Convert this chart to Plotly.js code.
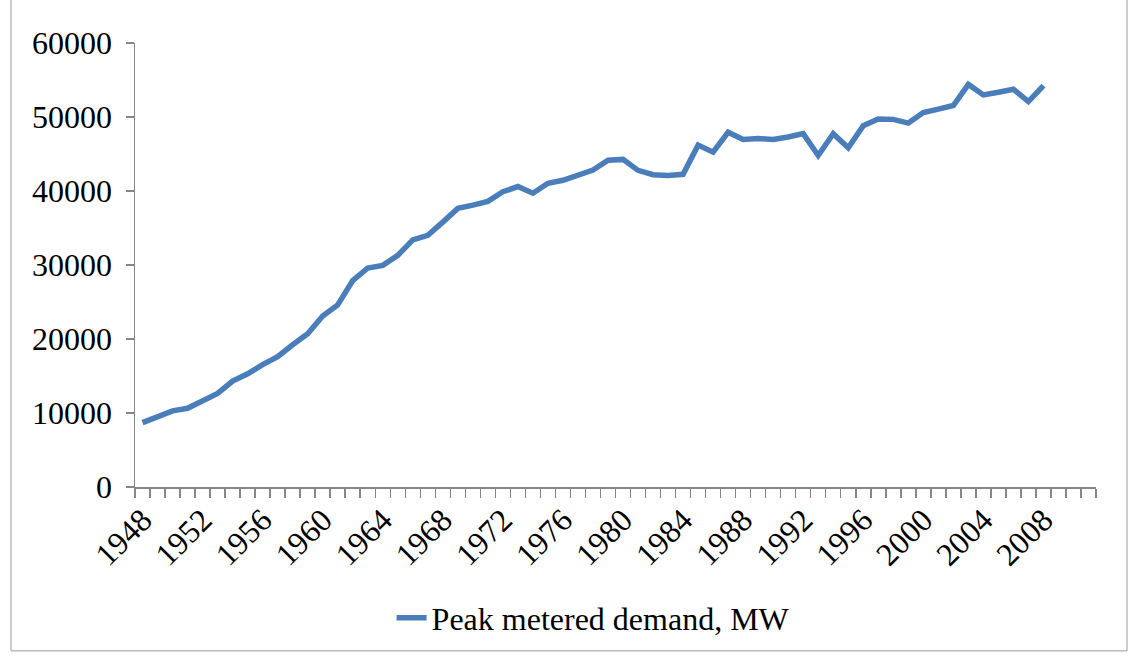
<!DOCTYPE html>
<html>
<head>
<meta charset="utf-8">
<script src="https://cdn.plot.ly/plotly-3.0.1.min.js"></script>
<style>html,body{margin:0;padding:0;background:#fff;}#chart{width:1134px;height:657px;}</style>
</head>
<body>
<div id="chart"></div>
<script>
const years = [1948,1949,1950,1951,1952,1953,1954,1955,1956,1957,1958,1959,1960,1961,1962,1963,1964,1965,1966,1967,1968,1969,1970,1971,1972,1973,1974,1975,1976,1977,1978,1979,1980,1981,1982,1983,1984,1985,1986,1987,1988,1989,1990,1991,1992,1993,1994,1995,1996,1997,1998,1999,2000,2001,2002,2003,2004,2005,2006,2007,2008];
const peakDemand = [8700,9480,10290,10640,11710,12650,14310,15290,16540,17620,19220,20700,23100,24600,27900,29600,29950,31300,33400,34000,35800,37650,38100,38600,39900,40600,39700,41050,41450,42160,42830,44170,44270,42790,42200,42080,42250,46200,45250,47930,46950,47080,46950,47300,47750,44800,47750,45830,48830,49720,49680,49180,50600,51060,51550,54400,52980,53340,53750,52080,54230];
const tickYears = [1948,1952,1956,1960,1964,1968,1972,1976,1980,1984,1988,1992,1996,2000,2004,2008];
const yTicks = [0,10000,20000,30000,40000,50000,60000];
const seriesName = 'Peak metered demand, MW';

const axisColor = '#878787';
const font = 'Liberation Serif, Times New Roman, serif';
const fs = 32;

const trace = {
  x: years, y: peakDemand, type: 'scatter', mode: 'lines', name: seriesName,
  line: {color: '#4A7EBB', width: 5.5, shape: 'linear'},
  showlegend: true
};

const layout = {
  width: 1134, height: 657,
  margin: {l: 135, r: 38, t: 43, b: 167},
  paper_bgcolor: '#fff', plot_bgcolor: '#fff',
  font: {family: font, size: fs, color: '#000'},
  showlegend: true,
  xaxis: {
    type: 'linear', range: [1947.5, 2011.5],
    tickmode: 'array', tickvals: tickYears, ticktext: tickYears.map(String),
    ticks: '', tickangle: -45,
    showgrid: false, zeroline: false,
    showline: true, linecolor: axisColor, linewidth: 1.5,
    tickfont: {family: font, size: fs, color: '#000'},
    minor: {tickmode: 'linear', tick0: 1947.5, dtick: 1, ticks: 'outside', ticklen: 9, tickcolor: axisColor, tickwidth: 1.5, showgrid: false},
    fixedrange: true
  },
  yaxis: {
    range: [0, 60000], tickmode: 'array', tickvals: yTicks, ticktext: yTicks.map(String),
    ticks: 'outside', ticklen: 8, tickcolor: axisColor, tickwidth: 1.5,
    showgrid: false, zeroline: false,
    showline: true, linecolor: axisColor, linewidth: 1.5,
    tickfont: {family: font, size: fs, color: '#000'},
    ticklabelstandoff: 7,
    fixedrange: true
  },
  legend: {
    orientation: 'h', x: 0.267, xanchor: 'left', y: -0.295, yanchor: 'middle',
    font: {family: font, size: fs, color: '#000'},
    bgcolor: 'rgba(0,0,0,0)'
  },
  shapes: [{
    type: 'rect', xref: 'paper', yref: 'paper',
    x0: (11 - 135) / 961, x1: (1127 - 135) / 961,
    y0: (490 - 655) / 447, y1: (490 + 20) / 447,
    line: {color: '#9a9a9a', width: 1}, fillcolor: 'rgba(0,0,0,0)', layer: 'below'
  }]
};

Plotly.newPlot('chart', [trace], layout, {displayModeBar: false, staticPlot: true});
</script>
</body>
</html>
